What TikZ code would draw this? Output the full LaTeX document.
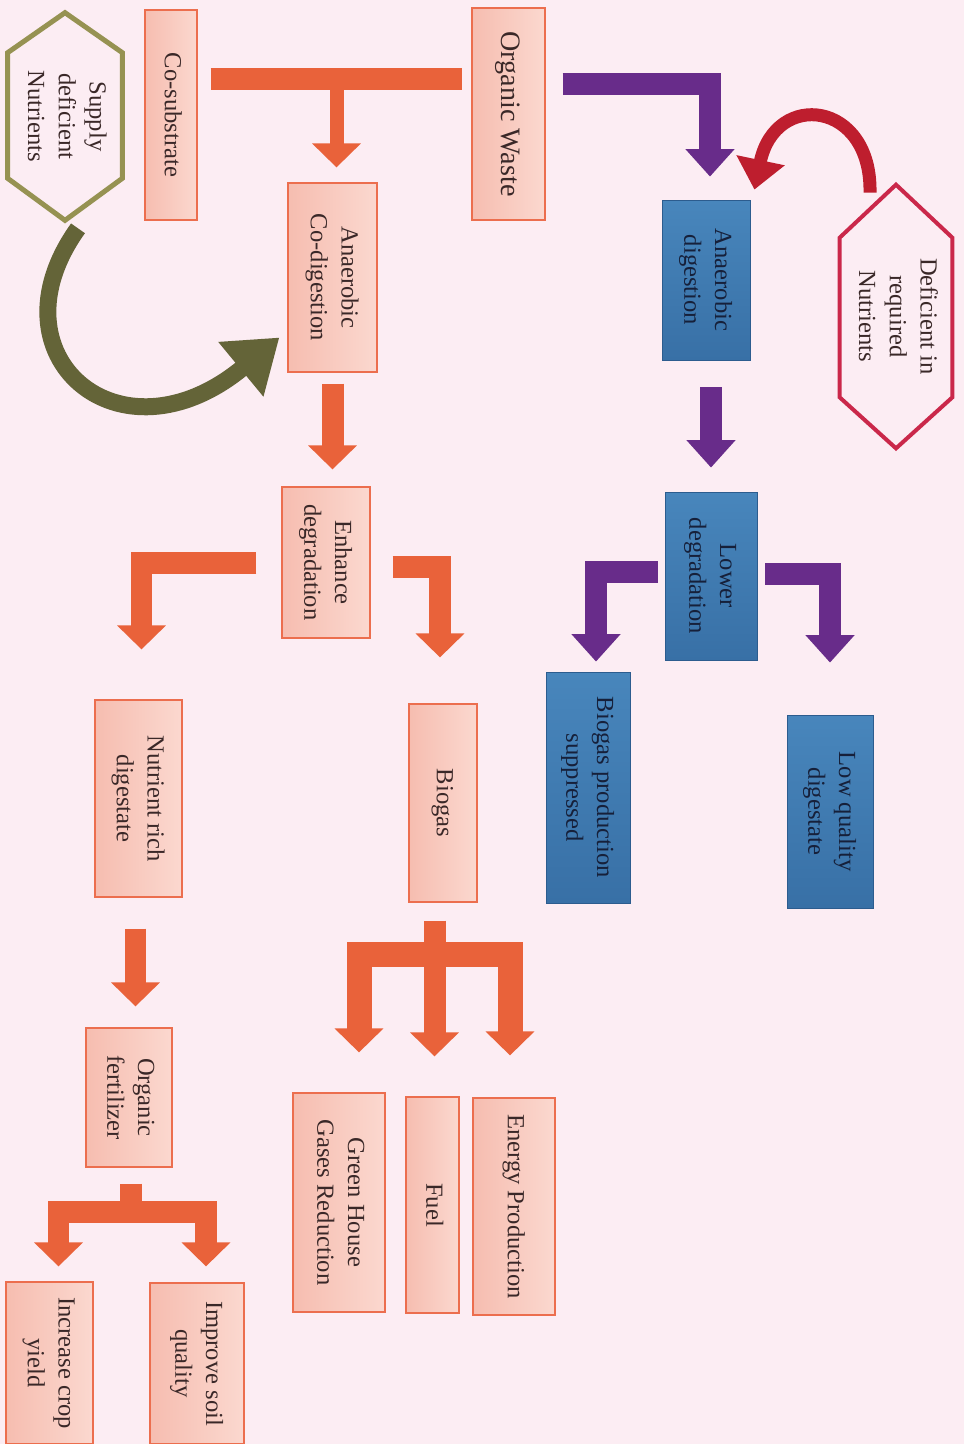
\documentclass[tikz,border=0pt]{standalone}
\usepackage{fontspec}
\setmainfont{Liberation Serif}
\usepackage{graphicx}
\usetikzlibrary{arrows.meta,calc}

\definecolor{bgpink}{RGB}{252,237,243}
\definecolor{peachL}{RGB}{246,189,176}
\definecolor{peachR}{RGB}{251,216,207}
\definecolor{peachline}{RGB}{236,110,78}
\definecolor{peachtext}{RGB}{58,40,40}
\definecolor{blueT}{RGB}{72,134,188}
\definecolor{blueB}{RGB}{56,112,166}
\definecolor{blueline}{RGB}{44,92,142}
\definecolor{bluetext}{RGB}{22,32,58}
\definecolor{orangearr}{RGB}{233,98,58}
\definecolor{purplearr}{RGB}{104,44,138}
\definecolor{redarr}{RGB}{190,30,46}
\definecolor{olivearr}{RGB}{100,100,56}
\definecolor{olivehex}{RGB}{150,146,82}
\definecolor{crimsonhex}{RGB}{202,40,74}

\newcommand{\vt}[1]{\rotatebox{-90}{\begin{tabular}{@{}c@{}}#1\end{tabular}}}

\begin{document}
\begin{tikzpicture}[x=0.02cm,y=-0.02cm,
    peach/.style={draw=peachline,line width=0.7pt,left color=peachL,right color=peachR,
      text=peachtext,inner sep=0pt,font=\fontsize{14}{17.5}\selectfont},
    bluebox/.style={draw=blueline,line width=0.5pt,top color=blueT,bottom color=blueB,
      text=bluetext,inner sep=0pt,font=\fontsize{14}{17.5}\selectfont},
    hexbox/.style={inner sep=0pt,text=peachtext,font=\fontsize{14}{17.5}\selectfont},
    oline/.style={draw=orangearr,line width=0.44cm},
    oarr/.style={oline,-{Triangle[length=0.48cm,width=0.95cm]}},
    ofork/.style={oline,{Triangle[length=0.48cm,width=0.95cm]}-{Triangle[length=0.48cm,width=0.95cm]}},
    parr/.style={draw=purplearr,line width=0.44cm,-{Triangle[length=0.55cm,width=0.95cm]}},
    olivearrow/.style={draw=olivearr,line width=0.34cm,-{Triangle[length=1cm,width=1.35cm]}},
    redarrow/.style={draw=redarr,line width=0.26cm,-{Triangle[length=0.6cm,width=0.95cm]}}]
  \useasboundingbox (0,0) rectangle (964,1444);
  \fill[bgpink] (0,0) rectangle (964,1444);

  \node[peach,minimum width=1.46cm,minimum height=4.24cm,font=\fontsize{16}{19}\selectfont] (ow) at (508.5,114) {\vt{Organic Waste}};
  \node[peach,minimum width=1.04cm,minimum height=4.2cm] (cs) at (171,115) {\vt{Co-substrate}};
  \node[hexbox,minimum width=2.28cm,minimum height=4.14cm] (sdn) at (65,116.5) {\vt{Supply\\deficient\\Nutrients}};
  \node[peach,minimum width=1.78cm,minimum height=3.78cm] (acd) at (332.5,277.5) {\vt{Anaerobic\\Co-digestion}};
  \node[bluebox,minimum width=1.76cm,minimum height=3.2cm] (ad) at (706,280) {\vt{Anaerobic\\digestion}};
  \node[hexbox,minimum width=2.24cm,minimum height=5.26cm] (dn) at (896,316.5) {\vt{Deficient in\\required\\Nutrients}};
  \node[peach,minimum width=1.76cm,minimum height=3.02cm] (ed) at (326,562.5) {\vt{Enhance\\degradation}};
  \node[bluebox,minimum width=1.84cm,minimum height=3.36cm] (ld) at (711,576) {\vt{Lower\\degradation}};
  \node[peach,minimum width=1.74cm,minimum height=3.94cm] (nrd) at (138.5,798.5) {\vt{Nutrient rich\\digestate}};
  \node[peach,minimum width=1.36cm,minimum height=3.96cm] (bg) at (443,803) {\vt{Biogas}};
  \node[bluebox,minimum width=1.68cm,minimum height=4.62cm] (bps) at (588,787.5) {\vt{Biogas production\\suppressed}};
  \node[bluebox,minimum width=1.72cm,minimum height=3.86cm] (lqd) at (830,811.5) {\vt{Low quality\\digestate}};
  \node[peach,minimum width=1.72cm,minimum height=2.78cm] (of) at (129,1097.5) {\vt{Organic\\fertilizer}};
  \node[peach,minimum width=1.84cm,minimum height=4.38cm] (ghg) at (339,1202.5) {\vt{Green House\\Gases Reduction}};
  \node[peach,minimum width=1.06cm,minimum height=4.32cm] (fu) at (432.5,1205) {\vt{Fuel}};
  \node[peach,minimum width=1.64cm,minimum height=4.34cm] (ep) at (514,1206.5) {\vt{Energy Production}};
  \node[peach,minimum width=1.74cm,minimum height=3.24cm] (icy) at (49.5,1363) {\vt{Increase crop\\yield}};
  \node[peach,minimum width=1.88cm,minimum height=3.22cm] (isq) at (197,1363.5) {\vt{Improve soil\\quality}};

  \draw[olivehex,line width=0.1cm] (sdn.north) -- ($(sdn.north east)+(0,40)$) -- ($(sdn.south east)+(0,-42)$)
    -- (sdn.south) -- ($(sdn.south west)+(0,-42)$) -- ($(sdn.north west)+(0,40)$) -- cycle;
  \draw[crimsonhex,line width=0.08cm] (dn.north) -- ($(dn.north east)+(0,53)$) -- ($(dn.south east)+(0,-51)$)
    -- (dn.south) -- ($(dn.south west)+(0,-51)$) -- ($(dn.north west)+(0,53)$) -- cycle;

  \draw[oarr,line width=0.28cm] ($(acd.north)+(4,-104)$) -- ($(acd.north)+(4,-15)$);
  \draw[oline] ($(cs.east)+(13,-36)$) -- ($(ow.west)+(-9,-35)$);
  \draw[oarr] ($(acd.south)+(0,11)$) -- ($(acd.south |- ed.north)+(0,-17)$);
  \draw[oarr] ($(ed.west)+(-25,0)$) -| ($(nrd.north)+(3,-50)$);
  \draw[oarr] ($(ed.east)+(22,4)$) -| ($(bg.north)+(-3,-46)$);
  \draw[oarr] ($(nrd.south)+(-3,31)$) -- ($(nrd.south |- of.north)+(-3,-21)$);

  \coordinate (jf) at ($(of.south)+(2,44)$);
  \draw[oline] ($(of.south)+(2,16)$) -- (jf);
  \draw[ofork] ($(icy.north)+(9,-15)$) |- (jf) -| ($(isq.north)+(9,-16)$);

  \coordinate (jb) at ($(fu.north)+(2,-142)$);
  \draw[ofork,line width=0.5cm] ($(ghg.north)+(20,-40)$) |- (jb) -| ($(ep.north)+(-4,-42)$);
  \draw[oarr] ($(fu.north |- bg.south)+(2,18)$) -- ($(fu.north)+(2,-40)$);

  \draw[parr] ($(ow.east)+(17,-30)$) -| ($(ad.north)+(4,-23)$);
  \draw[parr] ($(ld.north |- ad.south)+(0,27)$) -- ($(ld.north)+(0,-24)$);
  \draw[parr] ($(ld.west)+(-7,-4)$) -| ($(bps.north)+(8,-10)$);
  \draw[parr] ($(ld.east)+(8,-2)$) -| ($(lqd.north)+(0,-52)$);

  \draw[olivearrow] ($(sdn.south)+(13,8)$) .. controls ($(sdn.south)+(-78,135)$) and ($(acd.west)+(-168,192)$) .. ($(acd.west)+(-8,60)$);
  \draw[redarrow] ($(dn.north)+(-26,8)$) .. controls ($(dn.north)+(-24,-84)$) and ($(ad.north east)+(25,-110)$) .. ($(ad.north east)+(4,-10)$);
\end{tikzpicture}
\end{document}
